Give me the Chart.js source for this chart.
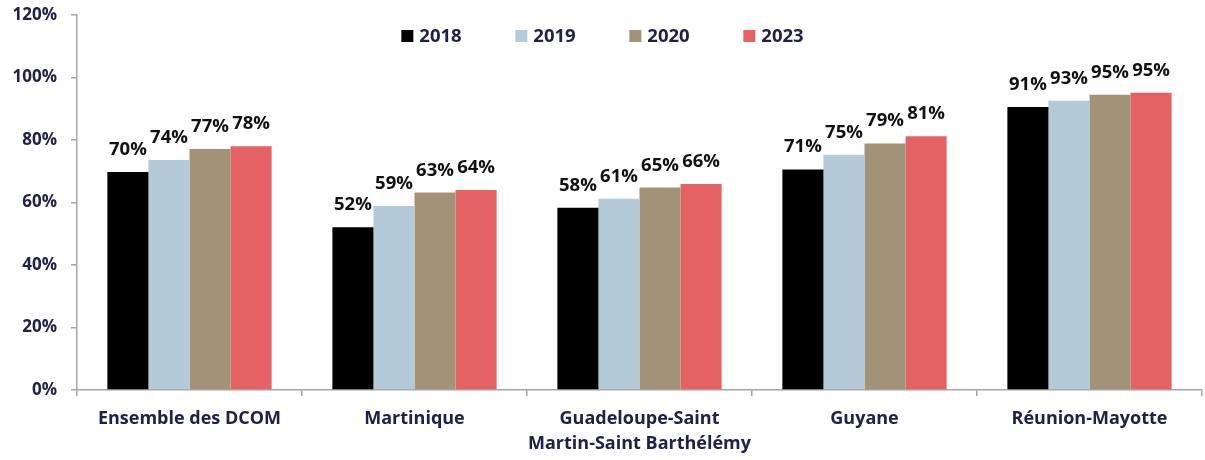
<!DOCTYPE html>
<html>
<head>
<meta charset="utf-8">
<script src="https://cdn.jsdelivr.net/npm/chart.js@4"></script>
<style>
  html, body { margin: 0; padding: 0; background: #fff; }
  #wrap { width: 1205px; height: 460px; }
</style>
</head>
<body>
<div id="wrap"><canvas id="chart" width="1205" height="460"></canvas></div>
<script>
// Données du graphique
const categories = [
  'Ensemble des DCOM',
  'Martinique',
  ['Guadeloupe-Saint', 'Martin-Saint Barthélémy'],
  'Guyane',
  'Réunion-Mayotte'
];
const years = ['2018', '2019', '2020', '2023'];
const values2018 = [69.8, 52.1, 58.3, 70.6, 90.6];
const values2019 = [73.6, 58.9, 61.2, 75.3, 92.6];
const values2020 = [77.1, 63.2, 64.8, 78.9, 94.5];
const values2023 = [78.0, 64.0, 65.9, 81.2, 95.1];
const yTicks = [0, 20, 40, 60, 80, 100, 120];

const colors = ['#000000', '#b5cad9', '#a29277', '#e46264'];
const navy = '#20204a';
const fontFam = '"Open Sans", Lato, sans-serif';

// Étiquettes de valeur au-dessus des barres
const valueLabels = {
  id: 'valueLabels',
  afterDatasetsDraw(chart) {
    const ctx = chart.ctx;
    ctx.save();
    ctx.font = 'bold 18.5px ' + fontFam;
    ctx.fillStyle = '#111';
    ctx.textAlign = 'center';
    ctx.textBaseline = 'alphabetic';
    chart.data.datasets.forEach((ds, i) => {
      chart.getDatasetMeta(i).data.forEach((bar, j) => {
        ctx.fillText(Math.round(ds.data[j]) + '%', bar.x, bar.y - 17);
      });
    });
    ctx.restore();
  }
};

// Légende dessinée dans la zone du graphique
const topLegend = {
  id: 'topLegend',
  afterDraw(chart) {
    const ctx = chart.ctx;
    const step = 114, box = 12, gap = 6;
    ctx.save();
    ctx.font = 'bold 18.5px ' + fontFam;
    const n = chart.data.datasets.length;
    const lastW = ctx.measureText(chart.data.datasets[n - 1].label).width;
    const total = (n - 1) * step + box + gap + lastW;
    let x = chart.width / 2 - total / 2;
    const y = 36;
    chart.data.datasets.forEach(ds => {
      ctx.fillStyle = ds.backgroundColor;
      ctx.fillRect(x, y - box / 2, box, box);
      ctx.fillStyle = navy;
      ctx.textBaseline = 'middle';
      ctx.textAlign = 'left';
      ctx.fillText(ds.label, x + box + gap, y + 1);
      x += step;
    });
    ctx.restore();
  }
};

const seriesValues = [values2018, values2019, values2020, values2023];

new Chart(document.getElementById('chart'), {
  type: 'bar',
  data: {
    labels: categories,
    datasets: years.map((y, i) => ({
      label: y,
      data: seriesValues[i],
      backgroundColor: colors[i],
      borderWidth: 0,
      categoryPercentage: 0.73,
      barPercentage: 1.0
    }))
  },
  options: {
    responsive: false,
    animation: false,
    layout: { padding: { top: 15, right: 3, left: 0, bottom: 0 } },
    plugins: {
      legend: { display: false },
      tooltip: { enabled: false }
    },
    scales: {
      x: {
        grid: {
          offset: true,
          drawOnChartArea: false,
          drawTicks: true,
          tickLength: 6,
          color: '#a6a6a6',
          lineWidth: 1.5
        },
        border: { color: '#a6a6a6', width: 1.5 },
        ticks: {
          color: navy,
          font: { family: fontFam, weight: 'bold', size: 18, lineHeight: 1.4 },
          padding: 10,
          maxRotation: 0,
          autoSkip: false
        },
        afterFit(scale) {
          scale.height = 70;
          scale.paddingLeft = 0;
          scale.paddingRight = 0;
        }
      },
      y: {
        min: 0,
        max: 120,
        afterBuildTicks(scale) { scale.ticks = yTicks.map(v => ({ value: v })); },
        grid: {
          drawOnChartArea: false,
          drawTicks: true,
          tickLength: 6,
          color: '#a6a6a6',
          lineWidth: 1.5
        },
        border: { color: '#a6a6a6', width: 1.5 },
        ticks: {
          color: navy,
          font: { family: fontFam, weight: 'bold', size: 17 },
          padding: 14,
          callback: v => v + '%'
        },
        afterFit(scale) {
          scale.width = 77;
          scale.paddingTop = 0;
          scale.paddingBottom = 0;
        }
      }
    }
  },
  plugins: [valueLabels, topLegend]
});
</script>
</body>
</html>
